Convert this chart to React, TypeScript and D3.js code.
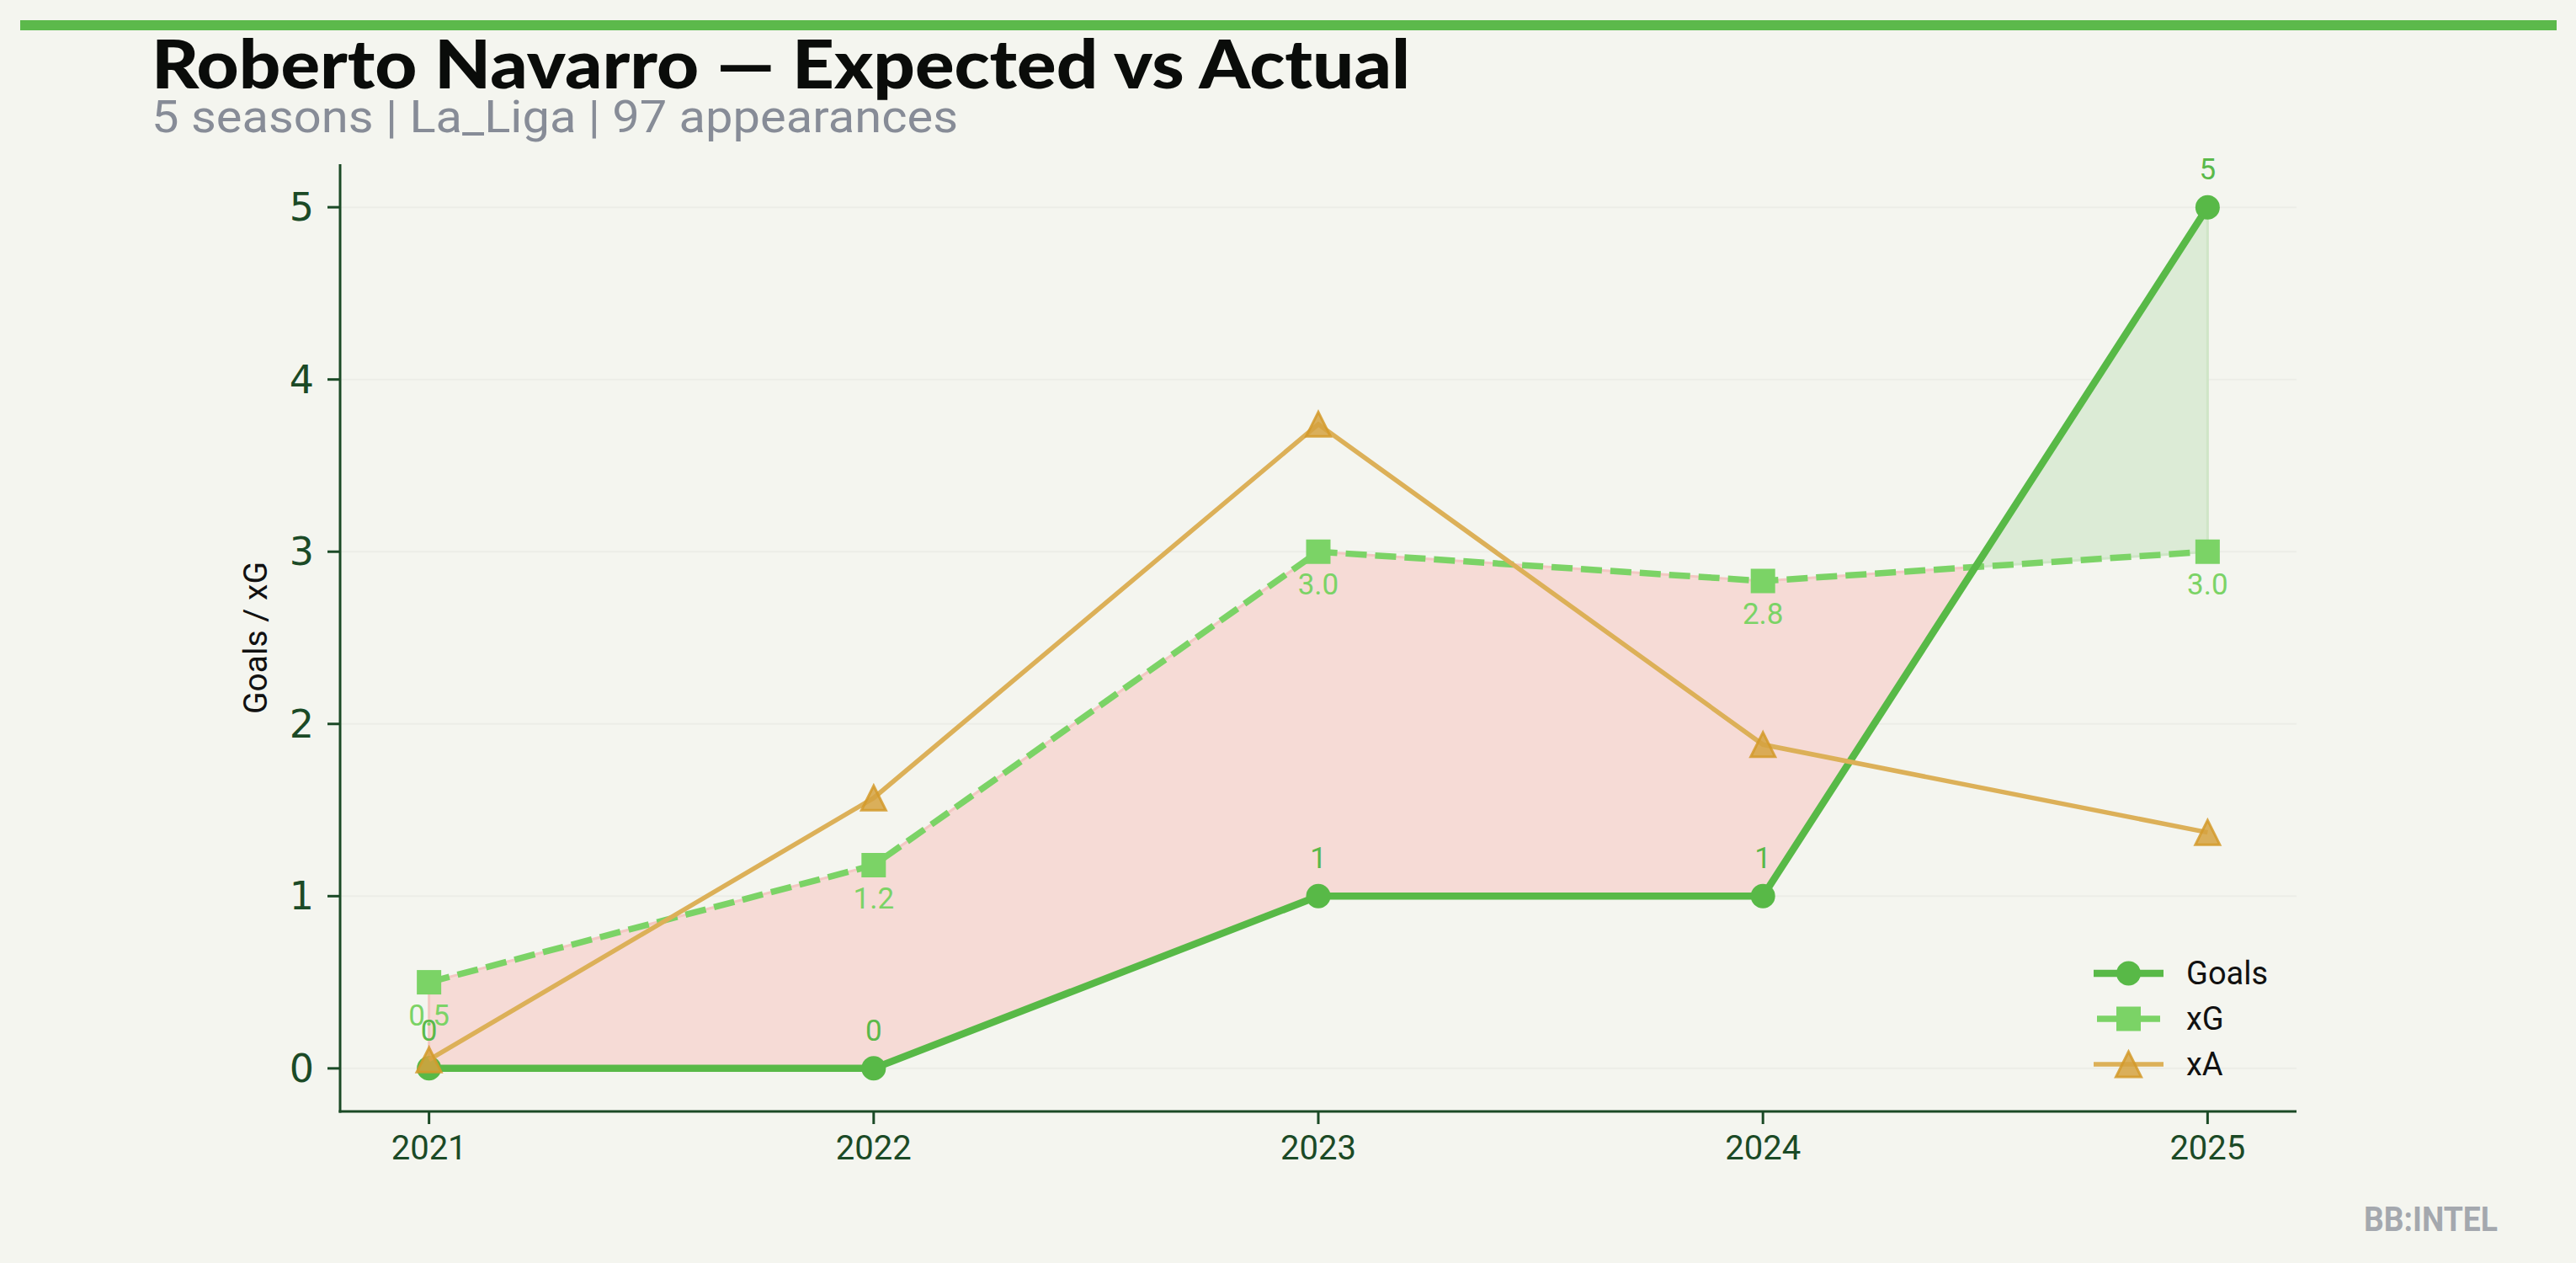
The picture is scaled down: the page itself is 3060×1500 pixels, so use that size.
import React from "react";
import * as d3 from "d3";

const years = [2021, 2022, 2023, 2024, 2025];
const goals = [0, 0, 1, 1, 5];
const xg = [0.5, 1.18, 3.0, 2.83, 3.0];
const xa = [0.05, 1.57, 3.74, 1.88, 1.37];
const yTicks = [0, 1, 2, 3, 4, 5];
const legendItems = ["Goals", "xG", "xA"];

const TITLE = "Roberto Navarro — Expected vs Actual";
const SUBTITLE = "5 seasons | La_Liga | 97 appearances";

const W = 3060;
const H = 1500;
const BG = "#f4f5ef";
const DARK = "#1b4a26";
const C_GOALS = "#58b947";
const C_XG = "#7bd366";
const C_XA = "#dcb058";
const C_XA_MARK = "#d5a23f";
const C_XA_EDGE = "#d49a2a";

export default function App() {
  const x = d3.scaleLinear().domain([2020.8, 2025.2]).range([404, 2728]);
  const y = d3.scaleLinear().domain([-0.25, 5.25]).range([1320, 195]);

  // augmented points with crossings for fill_between(interpolate=True)
  const pts: { t: number; g: number; e: number }[] = [];
  for (let i = 0; i < years.length; i++) {
    pts.push({ t: years[i], g: goals[i], e: xg[i] });
    if (i < years.length - 1) {
      const d0 = goals[i] - xg[i];
      const d1 = goals[i + 1] - xg[i + 1];
      if (d0 * d1 < 0) {
        const f = d0 / (d0 - d1);
        const t = years[i] + f * (years[i + 1] - years[i]);
        const g = goals[i] + f * (goals[i + 1] - goals[i]);
        pts.push({ t, g, e: g });
      }
    }
  }
  const redArea = d3
    .area<{ t: number; g: number; e: number }>()
    .defined((p) => p.e >= p.g)
    .x((p) => x(p.t))
    .y0((p) => y(p.g))
    .y1((p) => y(p.e));
  const greenArea = d3
    .area<{ t: number; g: number; e: number }>()
    .defined((p) => p.g >= p.e)
    .x((p) => x(p.t))
    .y0((p) => y(p.e))
    .y1((p) => y(p.g));

  const line = d3
    .line<number>()
    .x((_, i) => x(years[i]))
    .y((v) => y(v));

  const tri = (cx: number, cy: number, s: number) =>
    `M${cx},${cy - s / 2} L${cx - s / 2},${cy + s / 2} L${cx + s / 2},${cy + s / 2} Z`;

  const x0 = x.range()[0];
  const x1 = x.range()[1];
  const yBot = y.range()[0];
  const yTop = y.range()[1];

  const legX0 = 2487;
  const legX1 = 2570;
  const legMid = (legX0 + legX1) / 2;
  const legYs = [1156, 1210, 1264];

  return (
    <svg
      width={W}
      height={H}
      style={{ position: "absolute", left: 0, top: 0, display: "block" }}
    >
      <rect x={0} y={0} width={W} height={H} fill={BG} />
      <rect x={24} y={24} width={3013} height={12} fill="#5cb94b" />

      <text
        x={180}
        y={105}
        fontFamily="Lato, 'Noto Sans', sans-serif"
        fontWeight={900}
        fontSize={80}
        fill="#0a0c0a"
        textLength={1495}
        lengthAdjust="spacingAndGlyphs"
      >
        {TITLE}
      </text>
      <text
        x={180}
        y={157}
        fontFamily="Roboto, sans-serif"
        fontSize={54}
        fill="#878c97"
        textLength={958}
        lengthAdjust="spacingAndGlyphs"
      >
        {SUBTITLE}
      </text>

      {/* grid */}
      {yTicks.map((t) => (
        <line key={"g" + t} x1={x0} x2={x1} y1={y(t)} y2={y(t)} stroke="#ecede7" strokeWidth={2} />
      ))}

      {/* fills */}
      <path d={redArea(pts) || ""} fill="#f6dbd6" stroke="#f3c8c3" strokeWidth={3} />
      <path d={greenArea(pts) || ""} fill="#dcebd6" stroke="#cfe5c7" strokeWidth={3} />

      {/* xG */}
      <path d={line(xg) || ""} fill="none" stroke={C_XG} strokeWidth={7.5} strokeDasharray="25,10" />
      {xg.map((v, i) => (
        <rect key={"xs" + i} x={x(years[i]) - 14.5} y={y(v) - 14.5} width={29} height={29} fill={C_XG} />
      ))}

      {/* Goals */}
      <path d={line(goals) || ""} fill="none" stroke={C_GOALS} strokeWidth={8.5} />
      {goals.map((v, i) => (
        <circle key={"gc" + i} cx={x(years[i])} cy={y(v)} r={14.5} fill={C_GOALS} />
      ))}

      {/* xA */}
      <path d={line(xa) || ""} fill="none" stroke={C_XA} strokeWidth={5.5} />
      {xa.map((v, i) => (
        <path
          key={"xa" + i}
          d={tri(x(years[i]), y(v), 29)}
          fill={C_XA_MARK}
          fillOpacity={0.85}
          stroke={C_XA_EDGE}
          strokeOpacity={0.85}
          strokeWidth={3}
        />
      ))}

      {/* value labels */}
      {goals.map((v, i) => (
        <text
          key={"gl" + i}
          x={x(years[i])}
          y={y(v) - 33}
          textAnchor="middle"
          fontFamily="Roboto, sans-serif"
          fontSize={35}
          fill="#5ab94a"
        >
          {String(v)}
        </text>
      ))}
      {xg.map((v, i) => (
        <text
          key={"el" + i}
          x={x(years[i])}
          y={y(v) + 51}
          textAnchor="middle"
          fontFamily="Roboto, sans-serif"
          fontSize={35}
          fill={C_XG}
        >
          {v.toFixed(1)}
        </text>
      ))}

      {/* axes */}
      <line x1={x0} x2={x0} y1={yTop} y2={yBot + 1.5} stroke={DARK} strokeWidth={3} />
      <line x1={x0 - 1.5} x2={x1} y1={yBot} y2={yBot} stroke={DARK} strokeWidth={3} />
      {yTicks.map((t) => (
        <g key={"yt" + t}>
          <line x1={x0 - 15} x2={x0} y1={y(t)} y2={y(t)} stroke={DARK} strokeWidth={3} />
          <text
            x={373}
            y={y(t)}
            textAnchor="end"
            dominantBaseline="central"
            fontFamily="'DejaVu Sans', sans-serif"
            fontSize={46}
            fill={DARK}
          >
            {t}
          </text>
        </g>
      ))}
      {years.map((yr) => (
        <g key={"xt" + yr}>
          <line x1={x(yr)} x2={x(yr)} y1={yBot} y2={yBot + 15} stroke={DARK} strokeWidth={3} />
          <text
            x={x(yr)}
            y={1377}
            textAnchor="middle"
            fontFamily="Roboto, sans-serif"
            fontSize={40}
            fill={DARK}
          >
            {yr}
          </text>
        </g>
      ))}
      <text
        transform={`translate(304,${(yTop + yBot) / 2}) rotate(-90)`}
        textAnchor="middle"
        dominantBaseline="central"
        fontFamily="Roboto, sans-serif"
        fontSize={39}
        fill="#111"
      >
        Goals / xG
      </text>

      {/* legend */}
      {legendItems.map((name, i) => {
        const ly = legYs[i];
        return (
          <g key={"lg" + name}>
            {i === 0 && (
              <>
                <line x1={legX0} x2={legX1} y1={ly} y2={ly} stroke={C_GOALS} strokeWidth={8.5} />
                <circle cx={legMid} cy={ly} r={14.5} fill={C_GOALS} />
              </>
            )}
            {i === 1 && (
              <>
                <line x1={legX0 + 4} x2={legX1 - 4} y1={ly} y2={ly} stroke={C_XG} strokeWidth={7.5} />
                <rect x={legMid - 14.5} y={ly - 14.5} width={29} height={29} fill={C_XG} />
              </>
            )}
            {i === 2 && (
              <>
                <line x1={legX0} x2={legX1} y1={ly} y2={ly} stroke={C_XA} strokeWidth={5.5} />
                <path
                  d={tri(legMid, ly, 30)}
                  fill={C_XA_MARK}
                  fillOpacity={0.85}
                  stroke={C_XA_EDGE}
                  strokeOpacity={0.85}
                  strokeWidth={3}
                />
              </>
            )}
            <text
              x={2597}
              y={ly}
              dominantBaseline="central"
              fontFamily="Roboto, sans-serif"
              fontSize={38}
              fill="#111"
            >
              {name}
            </text>
          </g>
        );
      })}

      <text
        x={2808}
        y={1462}
        fontFamily="Roboto, sans-serif"
        fontWeight={700}
        fontSize={40}
        fill="#a4a8ae"
        textLength={159}
        lengthAdjust="spacingAndGlyphs"
      >
        BB:INTEL
      </text>
    </svg>
  );
}
